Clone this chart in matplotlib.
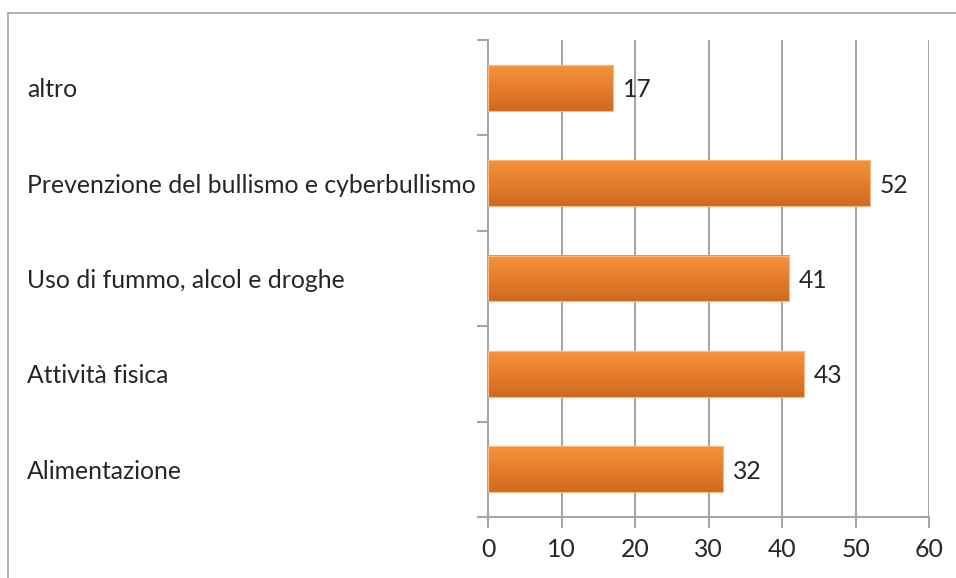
import numpy as np
import matplotlib.pyplot as plt
from matplotlib.colors import LinearSegmentedColormap
from matplotlib.transforms import blended_transform_factory

categories = ["Alimentazione", "Attività fisica", "Uso di fummo, alcol e droghe",
              "Prevenzione del bullismo e cyberbullismo", "altro"]
values = [32, 43, 41, 52, 17]
xticks = [0, 10, 20, 30, 40, 50, 60]

plt.rcParams['font.family'] = ['Lato', 'DejaVu Sans']
fs = 17.8
txt = '#262626'

fig = plt.figure(figsize=(9.56, 5.78), dpi=100)
# outer chart frame (only top and left edges fall inside the image)
fig.add_artist(plt.Line2D([8/956, 8/956], [0, 1 - 13/578], color='#a6a6a6', lw=1.2))
fig.add_artist(plt.Line2D([8/956, 1], [1 - 13/578, 1 - 13/578], color='#a6a6a6', lw=1.2))

ax = fig.add_axes([488/956, 1 - 517/578, (929 - 488)/956, (517 - 40)/578])
grey = '#a6a6a6'

ax.set_xticks(xticks)
ax.xaxis.grid(True, color=grey, lw=1.5)
ax.set_axisbelow(True)

cmap = LinearSegmentedColormap.from_list('bar', ['#f7923a', '#d06a1f'])
grad = np.linspace(0, 1, 64).reshape(-1, 1)
h = 0.48
for i, v in enumerate(values):
    ax.imshow(grad, cmap=cmap, aspect='auto', extent=(0, v, i - h / 2, i + h / 2),
              origin='upper', zorder=2, interpolation='bilinear')
    ax.add_patch(plt.Rectangle((0, i - h / 2), v, h, fill=False, ec='#f6b985', lw=0.8, zorder=3))
    ax.text(v + 1.3, i - 0.02, str(v), va='center', ha='left', fontsize=fs, color=txt, zorder=4)
ax.set_xlim(0, 60)
ax.set_ylim(-0.5, len(categories) - 0.5)

ax.set_yticks(np.arange(-0.5, len(categories), 1))
ax.set_yticklabels([])
ax.tick_params(axis='y', length=8, width=1.5, color=grey)
ax.tick_params(axis='x', length=8, width=1.5, color=grey, labelsize=fs, labelcolor=txt, pad=7)

label_tr = blended_transform_factory(fig.transFigure, ax.transData)
for i, c in enumerate(categories):
    ax.text(27/956, i - 0.02, c, transform=label_tr, ha='left', va='center', fontsize=fs, color=txt)

for s in ['top', 'right']:
    ax.spines[s].set_visible(False)
for s in ['left', 'bottom']:
    ax.spines[s].set_color(grey)
    ax.spines[s].set_linewidth(1.5)

fig.savefig('out.png', dpi=100)
